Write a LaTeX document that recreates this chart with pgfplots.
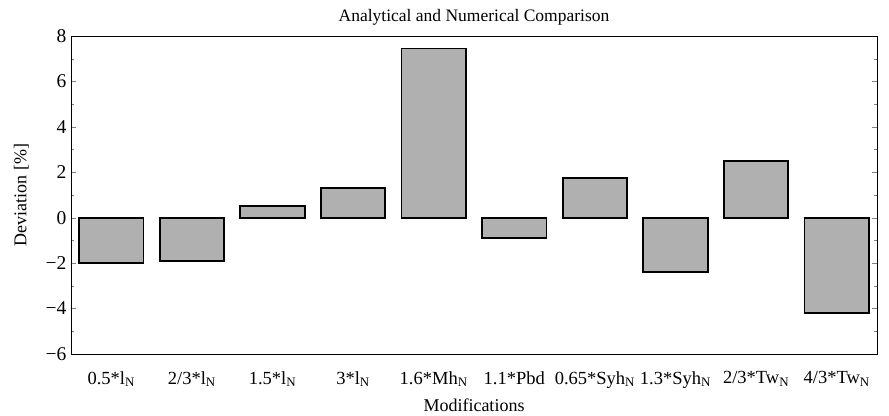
\documentclass[border=0pt]{standalone}
\usepackage{pgfplots}
\pgfplotsset{compat=1.18}
\usepackage{fontspec}
\setmainfont{Liberation Serif}
\begin{document}
\begin{tikzpicture}
\begin{axis}[
  scale only axis,
  width=806pt, height=318pt,
  xmin=-0.5, xmax=9.5,
  ymin=-6, ymax=8,
  ytick={-6,-4,...,8},
  yticklabels={−6,−4,−2,0,2,4,6,8},
  minor ytick={-5,-3,...,7},
  yticklabel style={xshift=-1pt, font=\fontsize{19.5}{22}\selectfont},
  xticklabel style={yshift=-9pt, font=\fontsize{18.5}{22}\selectfont},
  xtick=data,
  xtick style={draw=none},
  xticklabels={0.5*l\textsubscript{N}, 2/3*l\textsubscript{N}, 1.5*l\textsubscript{N}, 3*l\textsubscript{N}, 1.6*Mh\textsubscript{N}, 1.1*Pbd, 0.65*Syh\textsubscript{N}, 1.3*Syh\textsubscript{N}, 2/3*Tw\textsubscript{N}, 4/3*Tw\textsubscript{N}},
  ytick pos=both,
  tick align=inside,
  major tick length=5pt, minor tick length=3pt,
  xlabel={Modifications},
  ylabel={Deviation [\%]},
  label style={font=\fontsize{18}{21}\selectfont},
  xlabel style={yshift=-4pt},
  ylabel style={yshift=10pt},
  title={Analytical and Numerical Comparison},
  title style={font=\fontsize{17.5}{20}\selectfont, yshift=1pt},
  ybar, bar width=0.8, bar shift=0pt,
  axis line style={line width=0.8pt},
]
\addplot[fill=gray!62, draw=black, line width=1.8pt] coordinates {
(0,-2.0) (1,-1.9) (2,0.5) (3,1.3) (4,7.45) (5,-0.9) (6,1.75) (7,-2.4) (8,2.5) (9,-4.2)};
\end{axis}
\path (current axis.east) ++(12pt,0);
\path (current axis.west) ++(-71pt,0);
\path (current axis.north) ++(0,36pt);
\end{tikzpicture}
\end{document}
